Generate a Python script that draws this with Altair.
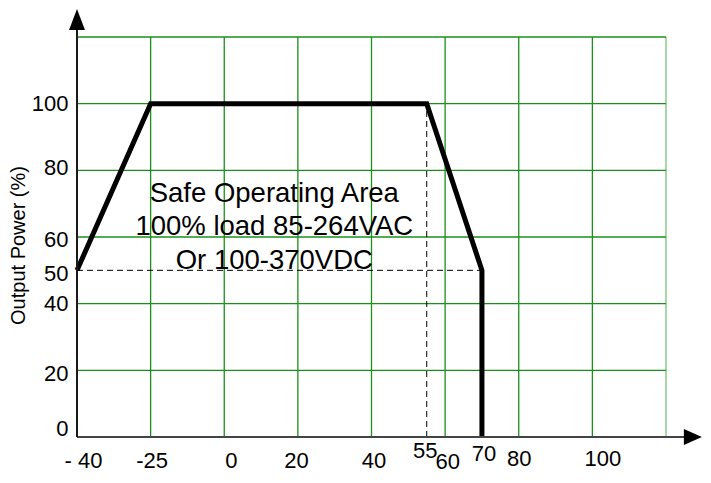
import altair as alt
import pandas as pd

# ---------------- data ----------------
CURVE_TEMP = [-40, -25, 55, 70, 70]
CURVE_LOAD = [50, 100, 100, 50, 0]

X_TICKS = [-40, -25, 0, 20, 40, 55, 60, 70, 80, 100]
X_TICK_LABELS = ["- 40", "-25", "0", "20", "40", "55", "60", "70", "80", "100"]
Y_TICKS = [0, 20, 40, 50, 60, 80, 100]

GRID_X = [-40, -25, 0, 20, 40, 60, 80, 100, 120]
GRID_Y = [0, 20, 40, 60, 80, 100, 120]

DASH_H_X = [-40, 70]
DASH_H_Y = [50]
DASH_V_X = [55]
DASH_V_Y = [0, 100]

NOTE_LINES = ["Safe Operating Area", "100% load 85-264VAC", "Or 100-370VDC"]
NOTE_X = [13.6, 13.6, 13.6]
NOTE_Y = [72.9, 63.1, 52.9]

Y_TITLE = "Output Power (%)"

# scale breaks (piecewise linear temperature axis)
X_BREAKS = [-40, -25, 0, 120]
Y_DOMAIN = [0, 120]
X_AXIS_END = 127
X_ARROW_AT = 127.3
Y_AXIS_END = 124
Y_ARROW_AT = 125.25

# ---------------- style ----------------
W, H = 589, 400
CELL = W / 8
FONT = "Liberation Sans"
GREEN = "#1a8f1a"
LIGHT_GREEN = "#78c478"

X_PAD = {55: 3, 70: 6, 80: 11, 100: 11, 60: 14}
X_OFF = {-40: 6, -25: 1, 0: 6.5, 20: -2, 40: 2, 55: -2, 60: 2, 70: 1.5, 100: 10}
Y_OFF = {0: -9, 80: -3, 20: 3, 50: 3, 60: 2}


def cond_expr(mapping, default):
    expr = str(default)
    for k, v in mapping.items():
        expr = f"datum.value == {k} ? {v} : ({expr})"
    return expr


label_expr = "datum.label"
for v, t in zip(X_TICKS, X_TICK_LABELS):
    label_expr = f"datum.value == {v} ? '{t}' : ({label_expr})"

xs = alt.Scale(domain=X_BREAKS, range=[0, CELL, 2 * CELL, W], nice=False, zero=False)
ys = alt.Scale(domain=Y_DOMAIN, nice=False, zero=False)

x_axis = alt.Axis(
    values=X_TICKS, labelExpr=label_expr, title=None, domain=False, ticks=False,
    tickSize=0, grid=False, labelFont=FONT, labelFontSize=22, labelColor="black",
    labelPadding={"expr": cond_expr(X_PAD, 13)},
    labelOffset={"expr": cond_expr(X_OFF, 0)},
    labelOverlap=False, labelFlush=False, labelBound=False,
)
y_axis = alt.Axis(
    values=Y_TICKS, title=Y_TITLE, domain=False, ticks=False, tickSize=0, grid=False,
    labelFont=FONT, labelFontSize=22, labelColor="black", labelPadding=9,
    labelOffset={"expr": cond_expr(Y_OFF, 0)},
    labelOverlap=False, labelFlush=False, labelBound=False,
    titleFont=FONT, titleFontSize=20, titleFontWeight="normal", titleColor="black",
    titleAngle=270, titleX=-53, titleY=208, titleBaseline="alphabetic", titleAlign="center",
    titleLimit=400,
)


def X(f="x"):
    return alt.X(f"{f}:Q", scale=xs, axis=x_axis)


def Y(f="y"):
    return alt.Y(f"{f}:Q", scale=ys, axis=y_axis)


# grid
vgrid = pd.DataFrame({"x": GRID_X, "y": [Y_DOMAIN[0]] * len(GRID_X), "y2": [Y_DOMAIN[1]] * len(GRID_X)})
hgrid = pd.DataFrame({"y": GRID_Y, "x": [X_BREAKS[0]] * len(GRID_Y), "x2": [X_BREAKS[-1]] * len(GRID_Y)})

vgrid_l = alt.Chart(vgrid).mark_rule(strokeWidth=1.3).encode(
    x=X(), y=Y(), y2="y2:Q",
    color=alt.condition("datum.x == 120", alt.value(LIGHT_GREEN), alt.value(GREEN)),
)
hgrid_l = alt.Chart(hgrid).mark_rule(strokeWidth=1.3, color=GREEN).encode(
    x=X(), x2="x2:Q", y=Y()
)

# dashed guides
dash_h = pd.DataFrame({"x": [DASH_H_X[0]], "x2": [DASH_H_X[1]], "y": DASH_H_Y})
dash_v = pd.DataFrame({"x": DASH_V_X, "y": [DASH_V_Y[0]], "y2": [DASH_V_Y[1]]})
dash_h_l = alt.Chart(dash_h).mark_rule(color="black", strokeWidth=1, strokeDash=[6, 4]).encode(
    x=X(), x2="x2:Q", y=Y()
)
dash_v_l = alt.Chart(dash_v).mark_rule(color="black", strokeWidth=1, strokeDash=[6, 4]).encode(
    x=X(), y=Y(), y2="y2:Q"
)

# derating curve
curve = pd.DataFrame({"x": CURVE_TEMP, "y": CURVE_LOAD, "o": list(range(len(CURVE_TEMP)))})
curve_l = alt.Chart(curve).mark_line(color="black", strokeWidth=5, strokeJoin="miter").encode(
    x=X(), y=Y(), order="o:Q"
)

# axis lines with arrows
xline = pd.DataFrame({"x": [X_BREAKS[0]], "x2": [X_AXIS_END], "y": [Y_DOMAIN[0]]})
yline = pd.DataFrame({"x": [X_BREAKS[0]], "y": [Y_DOMAIN[0]], "y2": [Y_AXIS_END]})
xline_l = alt.Chart(xline).mark_rule(color="#444444", strokeWidth=2).encode(x=X(), x2="x2:Q", y=Y())
yline_l = alt.Chart(yline).mark_rule(color="#1a1a1a", strokeWidth=2).encode(x=X(), y=Y(), y2="y2:Q")

xarrow = pd.DataFrame({"x": [X_ARROW_AT], "y": [Y_DOMAIN[0]]})
yarrow = pd.DataFrame({"x": [X_BREAKS[0]], "y": [Y_ARROW_AT]})
xarrow_l = alt.Chart(xarrow).mark_point(
    shape="M1,0L-1,-0.89L-1,0.89Z", size=324, filled=True, color="black", opacity=1, strokeWidth=0
).encode(x=X(), y=Y())
yarrow_l = alt.Chart(yarrow).mark_point(
    shape="M0,-1L0.76,1L-0.76,1Z", size=441, filled=True, color="black", opacity=1, strokeWidth=0
).encode(x=X(), y=Y())

# annotation
note = pd.DataFrame({"x": NOTE_X, "y": NOTE_Y, "t": NOTE_LINES})
note_l = alt.Chart(note).mark_text(
    font=FONT, fontSize=27.5, color="black", align="center", baseline="middle"
).encode(x=X(), y=Y(), text="t:N")

chart = alt.layer(
    vgrid_l, hgrid_l, dash_h_l, dash_v_l, curve_l, xline_l, yline_l, xarrow_l, yarrow_l, note_l
).properties(
    width=W, height=H,
    autosize=alt.AutoSizeParams(type="none"),
    padding={"left": 69, "top": 29, "right": 37, "bottom": 37},
    background="white",
).configure_view(stroke=None)

chart.save("out.html", embed_options={"renderer": "svg", "actions": False})
